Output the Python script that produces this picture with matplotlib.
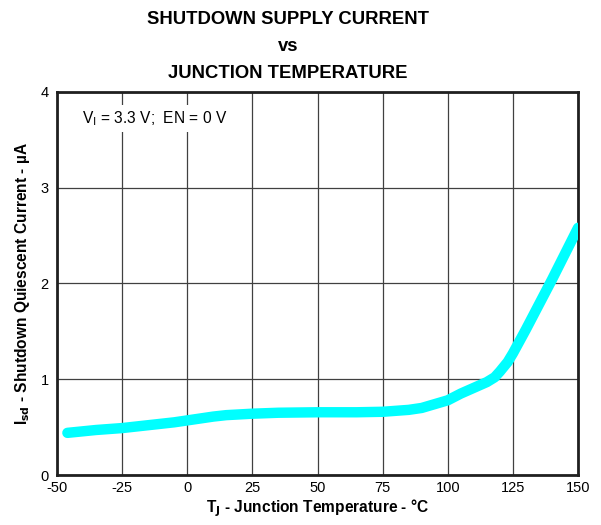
import matplotlib
matplotlib.use('Agg')
import matplotlib.pyplot as plt

plt.rcParams['font.family'] = ['Liberation Sans', 'DejaVu Sans']
plt.rcParams['axes.unicode_minus'] = False

# values
temp = [-46, -35, -25, -15, -5, 0, 5, 10, 15, 25, 35, 50, 65, 75, 85, 90, 95, 100, 105, 110, 115, 118, 120, 123, 125, 130, 135, 140, 145, 150]
isd = [0.44, 0.47, 0.49, 0.52, 0.55, 0.57, 0.59, 0.61, 0.625, 0.64, 0.65, 0.655, 0.655, 0.66, 0.68, 0.70, 0.74, 0.78, 0.85, 0.91, 0.97, 1.02, 1.08, 1.18, 1.27, 1.52, 1.78, 2.04, 2.31, 2.58]
xticks = [-50, -25, 0, 25, 50, 75, 100, 125, 150]
yticks = [0, 1, 2, 3, 4]

fig = plt.figure(figsize=(6.01, 5.25), dpi=100)
ax = fig.add_axes([0.0948, 0.0952, 0.867, 0.73])

ax.plot(temp, isd, color='#00FFFF', lw=7.5, solid_capstyle='round', solid_joinstyle='round', zorder=3)

ax.set_xlim(-50, 150)
ax.set_ylim(0, 4)
ax.set_xticks(xticks)
ax.set_yticks(yticks)
ax.tick_params(length=0, labelsize=10.5)
ax.tick_params(axis='x', pad=4)
ax.tick_params(axis='y', pad=6)
ax.grid(True, color='#404040', lw=0.9)
for s in ax.spines.values():
    s.set_linewidth(2)
    s.set_color('#202020')

ax.text(-40.5, 3.72, r'V$_\mathrm{I}$ = 3.3 V;  EN = 0 V', fontsize=11.2, va='center', ha='left',
        bbox=dict(facecolor='white', edgecolor='none', pad=3), zorder=4)

ax.set_xlabel(r'T$_\mathbf{J}$ - Junction Temperature - °C', fontsize=11.2, fontweight='bold', labelpad=2)
ax.set_ylabel(r'I$_\mathbf{sd}$ - Shutdown Quiescent Current - µA', fontsize=11.2, fontweight='bold', labelpad=6)
ax.set_title('SHUTDOWN SUPPLY CURRENT\nvs\nJUNCTION TEMPERATURE', fontsize=13.3, fontweight='bold',
             linespacing=1.75, pad=10, x=0.443)

fig.savefig('out.png', dpi=100)
